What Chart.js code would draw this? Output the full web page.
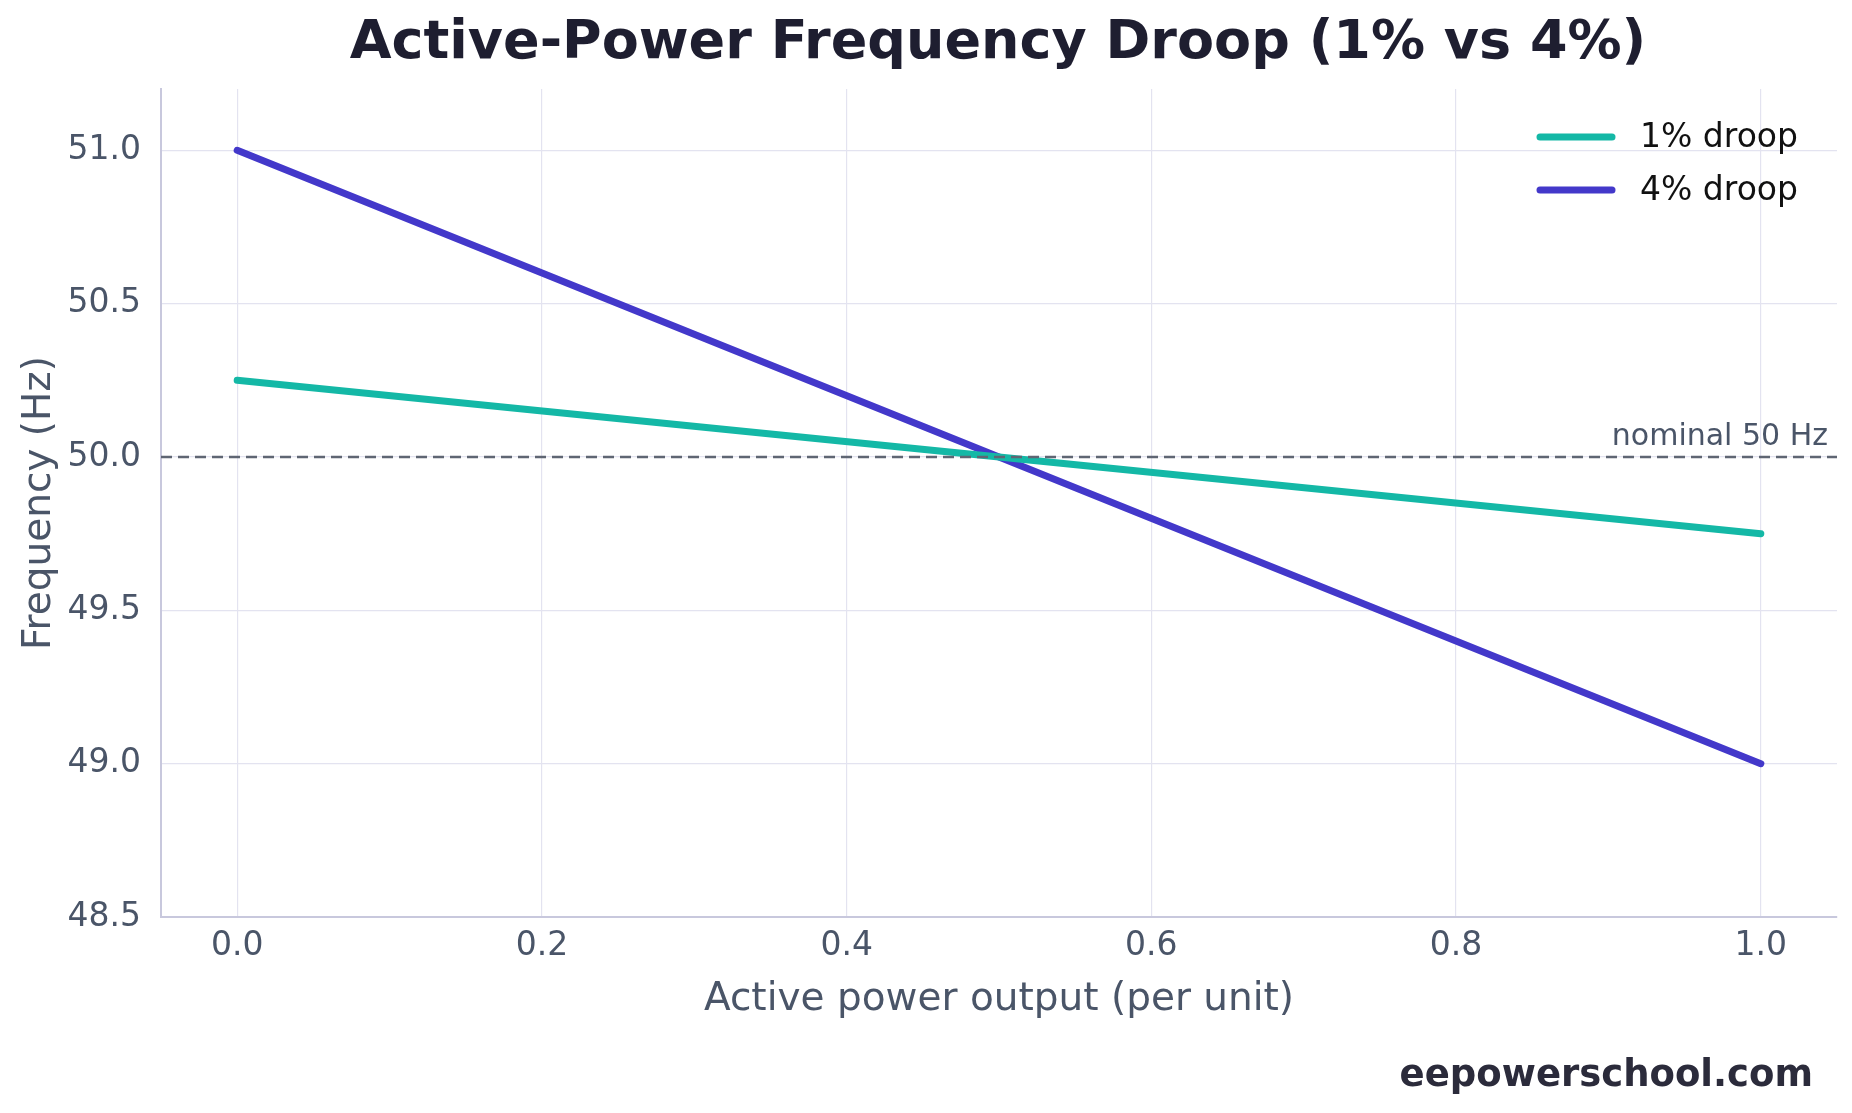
<!DOCTYPE html>
<html><head><meta charset="utf-8">
<script src="https://cdn.jsdelivr.net/npm/chart.js@4/dist/chart.umd.min.js"></script>
<style>html,body{margin:0;padding:0;background:#fff}#wrap{width:1852px;height:1113px}</style>
</head><body><div id="wrap"><canvas id="c"></canvas></div>
<script>
const powerPU = [0.0, 1.0];
const droop1 = [50.25, 49.75];
const droop4 = [51.0, 49.0];
const nominalX = [-0.05, 1.05];
const nominalY = [50.0, 50.0];
const yTicks = [48.5, 49.0, 49.5, 50.0, 50.5, 51.0];
const xTicks = [0.0, 0.2, 0.4, 0.6, 0.8, 1.0];
const FONT = "'DejaVu Sans', sans-serif";
const TEAL = '#14b8a6', PURPLE = '#4338ca', TICK = '#4a5568';

const pts = (xs, ys) => xs.map((x, i) => ({x, y: ys[i]}));

const overlay = {
  id: 'overlay',
  afterDraw(chart) {
    const ctx = chart.ctx;
    ctx.save();
    ctx.fillStyle = '#1e1e30';
    ctx.font = "bold 54px " + FONT;
    ctx.textAlign = 'center'; ctx.textBaseline = 'middle';
    ctx.fillText('Active-Power Frequency Droop (1% vs 4%)', 998, 44);
    const items = [['1% droop', TEAL, 137], ['4% droop', PURPLE, 190]];
    ctx.font = "33px " + FONT; ctx.textAlign = 'left';
    for (const [t, c, y] of items) {
      ctx.strokeStyle = c; ctx.lineWidth = 7; ctx.lineCap = 'round';
      ctx.beginPath(); ctx.moveTo(1540, y); ctx.lineTo(1612, y); ctx.stroke();
      ctx.fillStyle = '#111'; ctx.fillText(t, 1640, y + 1);
    }
    const yy = chart.scales.y.getPixelForValue(50);
    ctx.font = "30px " + FONT; ctx.fillStyle = '#4a5568';
    ctx.textAlign = 'right'; ctx.textBaseline = 'bottom';
    ctx.fillText('nominal 50 Hz', 1828, yy - 5);
    ctx.font = "bold 37px " + FONT; ctx.fillStyle = '#2b2b3b';
    ctx.textBaseline = 'middle';
    ctx.fillText('eepowerschool.com', 1813, 1076);
    ctx.restore();
  }
};

new Chart(document.getElementById('c'), {
  type: 'line',
  data: { datasets: [
    { label: 'nominal', data: pts(nominalX, nominalY), borderColor: '#5f6673', borderWidth: 2.5, borderDash: [11, 6], pointRadius: 0 },
    { label: '1% droop', data: pts(powerPU, droop1), borderColor: TEAL, borderWidth: 7, pointRadius: 0, borderCapStyle: 'round' },
    { label: '4% droop', data: pts(powerPU, droop4), borderColor: PURPLE, borderWidth: 7, pointRadius: 0, borderCapStyle: 'round' }
  ]},
  options: {
    responsive: true, maintainAspectRatio: false, animation: false,
    layout: { padding: { top: 89, right: 15, bottom: 86, left: 16 } },
    plugins: { legend: { display: false }, tooltip: { enabled: false } },
    scales: {
      x: {
        type: 'linear', min: -0.05, max: 1.05,
        afterBuildTicks: s => { s.ticks = xTicks.map(v => ({value: v})); },
        afterFit: s => { s.height = 110; },
        grid: { color: '#e3e3f0', lineWidth: 1.2, drawTicks: false },
        border: { color: '#c8c8dd', width: 2 },
        ticks: { color: TICK, font: { family: FONT, size: 33 }, padding: 10, callback: v => v.toFixed(1) },
        title: { display: true, text: 'Active power output (per unit)', color: TICK, font: { family: FONT, size: 39 }, padding: { top: 0 } }
      },
      y: {
        type: 'linear', min: 48.5, max: 51.2,
        afterBuildTicks: s => { s.ticks = yTicks.map(v => ({value: v})); },
        afterFit: s => { s.width = 145; },
        grid: { color: '#e3e3f0', lineWidth: 1.2, drawTicks: false },
        border: { color: '#c8c8dd', width: 2 },
        ticks: { color: TICK, font: { family: FONT, size: 33 }, padding: 20, callback: v => v.toFixed(1) },
        title: { display: true, text: 'Frequency (Hz)', color: TICK, font: { family: FONT, size: 39 }, padding: 0 }
      }
    }
  },
  plugins: [overlay]
});
</script></body></html>
